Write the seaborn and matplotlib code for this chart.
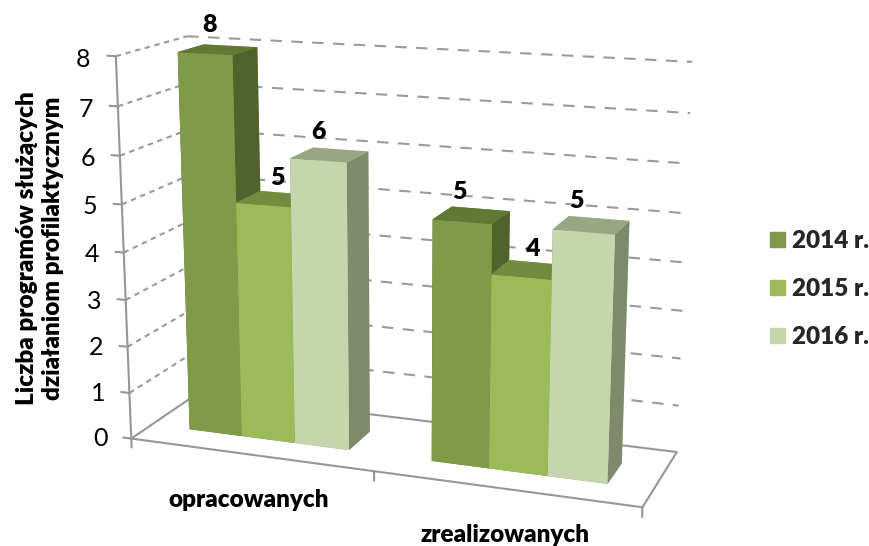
import matplotlib
matplotlib.use("Agg")
import matplotlib.pyplot as plt
from matplotlib.patches import Patch
from mpl_toolkits.mplot3d import proj3d
import seaborn as sns

# data
categories = ["opracowanych", "zrealizowanych"]
years = ["2014 r.", "2015 r.", "2016 r."]
v2014 = [8, 5]
v2015 = [5, 4]
v2016 = [6, 5]
z_ticks = [0, 1, 2, 3, 4, 5, 6, 7, 8]
ylabel = "Liczba programów służących\ndziałaniom profilaktycznym"

sns.set_theme(style="white")
plt.rcParams["font.family"] = ["Lato", "DejaVu Sans"]

palette = sns.color_palette(["#7F9A48", "#9BBB59", "#C6D6AC"])
tops = ["#5F7A33", "#708C3E", "#98A684"]
sides = ["#51632D", "#6B8238", "#7F8A6C"]
grid_col = "#9A9A9A"
axis_col = "#969696"

fig = plt.figure(figsize=(8.69, 5.46), dpi=100)
ax = fig.add_subplot(projection="3d", computed_zorder=False)
ax.set_xlim(0, 2, view_margin=0)
ax.set_ylim(0, 1, view_margin=0)
ax.set_zlim(0, 8, view_margin=0)
# camera fitted against the walls of the original chart
ax.set_position([-9.7684 / 869, -122.2534 / 546, 800 / 869, 800 / 546])
ax.view_init(elev=14.5816, azim=-69.8046, roll=0.0412)
ax.set_proj_type("persp", focal_length=0.4213)
ax.set_box_aspect((1, 0.2879, 0.7384), zoom=0.8362)
ax.set_axis_off()


def label3d(x, y, z, s, **kw):
    # plain 2D text at the projected point
    px, py, _ = proj3d.proj_transform(x, y, z, ax.get_proj())
    ax.text2D(px, py, s, transform=ax.transData, ha="center", va="center", color="black",
              zorder=20, **kw)


# walls
for v in z_ticks[1:]:
    ax.plot([0, 0], [0, 1], [v, v], color=grid_col, lw=1.5, ls=(0, (2.6, 2.2)), zorder=1)
    ax.plot([0, 2], [1, 1], [v, v], color=grid_col, lw=1.5, ls=(0, (5.5, 4.5)), zorder=1)
ax.plot([0, 2, 2, 0, 0], [0, 0, 1, 1, 0], [0, 0, 0, 0, 0], color=axis_col, lw=1.5, zorder=1)
ax.plot([0, 0], [0, 0], [0, 8], color=axis_col, lw=1.5, zorder=1)

# ticks and tick labels
for v in z_ticks:
    ax.plot([-0.035, 0], [0, 0], [v, v], color=axis_col, lw=1.5, zorder=1)
    label3d(-0.135, 0, v - 0.1, str(v), fontsize=18)
for i in range(len(categories) + 1):
    ax.plot([i, i], [0, 0], [0, -0.2], color=axis_col, lw=1.5, zorder=1)

# bars
bar_x0 = 0.1639
bar_w = 0.2231
bar_y0 = 0.2970
bar_y1 = 0.6756
series = [v2014, v2015, v2016]
label_dx = [[0.022, -0.012], [0.059, 0.04], [0.004, -0.027]]
order = 2
for c in range(len(categories)):
    for s in range(len(series)):
        x = c + bar_x0 + s * bar_w
        val = series[s][c]
        faces = [tops[s], tops[s], palette[s], palette[s], sides[s], sides[s]]
        ax.bar3d(x, bar_y0, 0, bar_w, bar_y1 - bar_y0, val, color=faces, shade=False,
                 linewidth=0, edgecolor="none", zorder=order)
        order += 1
        label3d(x + bar_w / 2 + label_dx[s][c], bar_y0, val + 0.58, str(val), fontsize=18,
                fontweight="heavy")

# category labels
for c, name in enumerate(categories):
    label3d(c + 0.5 - 0.01 + 0.012 * c, 0, -1.0 + 0.04 * c, name, fontsize=17.5, fontweight="heavy")

fig.text(40 / 869, 1 - 248 / 546, ylabel, rotation=90, ha="center", va="center",
         fontsize=17.5, fontweight="heavy", color="black", linespacing=1.2)

handles = [Patch(color=palette[i], label=years[i]) for i in range(3)]
fig.legend(handles=handles, loc="upper left", bbox_to_anchor=(770 / 869, 1 - 230 / 546),
           frameon=False, borderaxespad=0, borderpad=0, handlelength=0.61, handleheight=0.61,
           handletextpad=0.28, labelspacing=1.07, prop={"weight": "heavy", "size": 17.5})

fig.savefig("out.png", dpi=100)
